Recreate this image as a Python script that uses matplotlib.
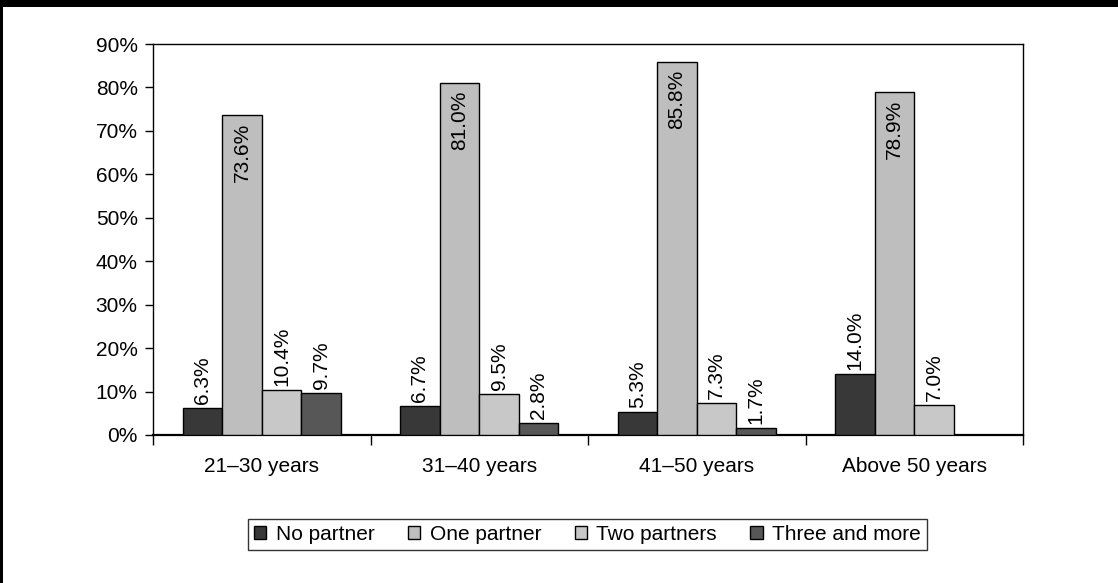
import matplotlib
matplotlib.use("Agg")
import matplotlib.pyplot as plt
import numpy as np

categories = ["21\u201330 years", "31\u201340 years", "41\u201350 years", "Above 50 years"]
series_names = ["No partner", "One partner", "Two partners", "Three and more"]
no_partner = [6.3, 6.7, 5.3, 14.0]
one_partner = [73.6, 81.0, 85.8, 78.9]
two_partners = [10.4, 9.5, 7.3, 7.0]
three_more = [9.7, 2.8, 1.7, None]
yticks = [0, 10, 20, 30, 40, 50, 60, 70, 80, 90]

plt.rcParams['font.family'] = ['Liberation Sans', 'DejaVu Sans']
plt.rcParams['savefig.transparent'] = False

W, H = 1118, 583
fig = plt.figure(figsize=(W / 100, H / 100), dpi=100)
fig.patch.set_facecolor("white")
fig.patch.set_alpha(1.0)

# background axes for the page border
bg = fig.add_axes([0, 0, 1, 1], zorder=-5)
bg.set_xlim(0, W)
bg.set_ylim(H, 0)
bg.set_facecolor("white")
bg.fill_between([0, W], 0, 7, color="black", linewidth=0)
bg.fill_betweenx([0, H], 0, 3, color="black", linewidth=0)
bg.set_xticks([])
bg.set_yticks([])
for s in bg.spines.values():
    s.set_visible(False)

ax = fig.add_axes([153 / W, 1 - 435 / H, (1023 - 153) / W, (435 - 44) / H])
ax.set_facecolor("white")

FS = 15
colors = ["#383838", "#bebebe", "#c8c8c8", "#575757"]
series = [no_partner, one_partner, two_partners, three_more]
bw = 0.182
x = np.arange(len(categories))
for i, (vals, name, c) in enumerate(zip(series, series_names, colors)):
    offs = (i - 1.5) * bw
    xs = [xi + offs for xi, v in zip(x, vals) if v is not None]
    vs = [v for v in vals if v is not None]
    bars = ax.bar(xs, vs, width=bw, color=c, edgecolor="black", linewidth=1.0, label=name, zorder=3)
    for b, v in zip(bars, vs):
        if v > 50:
            ax.text(b.get_x() + b.get_width() / 2, v - 1.8, f"{v:.1f}%", rotation=90,
                    ha="center", va="top", fontsize=FS, color="black", zorder=4)
        else:
            ax.text(b.get_x() + b.get_width() / 2, v + 0.9, f"{v:.1f}%", rotation=90,
                    ha="center", va="bottom", fontsize=FS, color="black", zorder=4)

ax.set_xlim(-0.5, len(categories) - 0.5)
ax.set_ylim(0, 90)
ax.set_yticks(yticks)
ax.set_yticklabels([f"{t}%" for t in yticks], fontsize=FS)
ax.set_xticks(np.arange(len(categories) + 1) - 0.5, minor=False)
ax.set_xticklabels([])
ax.set_xticks(x, minor=True)
ax.set_xticklabels(categories, minor=True, fontsize=FS)
ax.tick_params(axis="x", which="minor", length=0, pad=16)
ax.tick_params(axis="x", which="major", length=7, width=1.0, direction="out")
ax.tick_params(axis="y", length=6, width=1.0, direction="out", pad=5)
for s in ax.spines.values():
    s.set_linewidth(1.0)
ax.spines['bottom'].set_linewidth(1.6)

leg = ax.legend(loc="center", bbox_to_anchor=(587.5 / W, 1 - 534.5 / H), bbox_transform=fig.transFigure,
                ncol=4, frameon=True, fontsize=FS, handlelength=0.6, handleheight=0.6,
                handletextpad=0.45, columnspacing=1.6, borderpad=0.3, fancybox=False, edgecolor="black")
leg.get_frame().set_linewidth(1.0)
leg.get_frame().set_facecolor("white")

fig.savefig("out.png", dpi=100, facecolor="white", transparent=False)
